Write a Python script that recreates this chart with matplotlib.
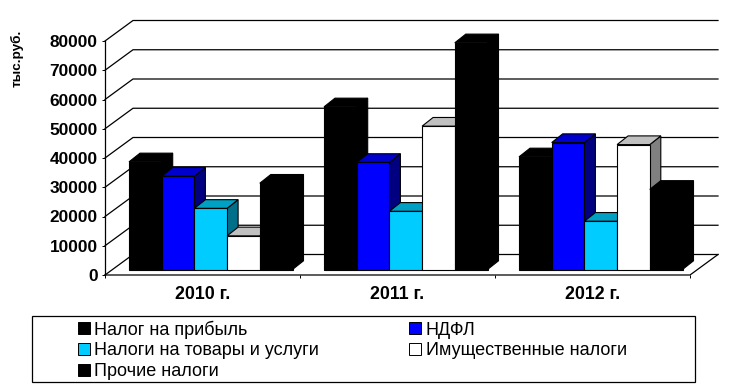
import matplotlib
matplotlib.use("Agg")
import matplotlib.pyplot as plt
from matplotlib.patches import Polygon, Patch, Rectangle

plt.rcParams['font.family'] = ['Liberation Sans', 'DejaVu Sans']

years = ["2010 г.", "2011 г.", "2012 г."]
series_names = ["Налог на прибыль", "НДФЛ", "Налоги на товары и услуги", "Имущественные налоги", "Прочие налоги"]
profit_tax = [36800, 55600, 38500]
ndfl = [31900, 36600, 43400]
goods_tax = [20900, 19900, 16500]
property_tax = [11500, 49000, 42700]
other_tax = [29500, 77500, 27400]
y_ticks = [0, 10000, 20000, 30000, 40000, 50000, 60000, 70000, 80000]

front_colors = ["#000000", "#0000ff", "#00ccff", "#ffffff", "#000000"]
top_colors = ["#000000", "#0000cc", "#009fc4", "#c0c0c0", "#000000"]
side_colors = ["#000000", "#000080", "#006f8a", "#808080", "#000000"]

fig = plt.figure(figsize=(7.38, 3.87), dpi=100)
ax = fig.add_axes([105 / 738, 1 - 275 / 387, 585 / 738, 234 / 387])
ax.set_xlim(0, 3)
ax.set_ylim(0, 80000)
for s in ax.spines.values():
    s.set_visible(False)

# one pixel in data units
px = 3 / 585
py = 80000 / 234

#################################walls############################################
wall_dx = 28 * px
wall_dy = 20.5 * py
for v in y_ticks:
    ax.plot([0, wall_dx, 3 + wall_dx], [v, v + wall_dy, v + wall_dy], color="black", lw=0.9, clip_on=False, zorder=1)
ax.plot([0, 0], [0, 80000], color="black", lw=0.9, clip_on=False, zorder=1)
ax.plot([0, 3, 3 + wall_dx], [0, 0, wall_dy], color="black", lw=0.9, clip_on=False, zorder=1)

#################################bars############################################
bar_w = 32.7 * px
start_x = 24 * px
base_y = 5.5 * py
depth_x = 11 * px
depth_y = 8.7 * py
all_series = [profit_tax, ndfl, goods_tax, property_tax, other_tax]

z = 2
for i in range(len(years)):
    for j, values in enumerate(all_series):
        x0 = i + start_x + j * bar_w
        x1 = x0 + bar_w
        top = values[i] + base_y
        side = [(x1, base_y), (x1 + depth_x, base_y + depth_y), (x1 + depth_x, top + depth_y), (x1, top)]
        roof = [(x0, top), (x0 + depth_x, top + depth_y), (x1 + depth_x, top + depth_y), (x1, top)]
        front = [(x0, base_y), (x1, base_y), (x1, top), (x0, top)]
        for pts, col in [(side, side_colors[j]), (roof, top_colors[j]), (front, front_colors[j])]:
            ax.add_patch(Polygon(pts, closed=True, facecolor=col, edgecolor="black", lw=0.8, clip_on=False, zorder=z))
        z += 1

#################################axes text############################################
ax.set_yticks(y_ticks)
ax.set_yticklabels([str(v) for v in y_ticks], fontsize=12.4, fontweight="bold")
ax.set_xticks([0, 1, 2, 3])
ax.set_xticklabels([])
ax.set_xticks([0.5, 1.5, 2.5], labels=years, minor=True, fontsize=12.8, fontweight="bold")
ax.tick_params(axis="y", length=2.2, width=0.7, pad=3)
ax.tick_params(axis="x", which="major", length=2.2, width=0.7)
ax.tick_params(axis="x", which="minor", length=0, pad=8)
fig.text(17.5 / 738, 1 - 58 / 387, "тыс.руб.", rotation=90, fontsize=9.7, fontweight="bold", ha="center", va="center")

#################################legend############################################
fig.add_artist(Rectangle((32 / 738, 1 - 382 / 387), 663 / 738, 66 / 387, transform=fig.transFigure,
                         facecolor="white", edgecolor="black", lw=0.9))
handles = [Patch(facecolor=c, edgecolor="black", lw=0.7) for c in front_colors]
order = [0, 2, 4, 1, 3]
leg = fig.legend([handles[k] for k in order], [series_names[k] for k in order], ncol=2, frameon=False,
                 loc="upper left", bbox_to_anchor=(78 / 738, 1 - 320.5 / 387), borderaxespad=0, borderpad=0,
                 fontsize=13, handlelength=0.65, handleheight=0.65, handletextpad=0.25,
                 labelspacing=0.2, columnspacing=5)

fig.savefig("out.png", dpi=100)
